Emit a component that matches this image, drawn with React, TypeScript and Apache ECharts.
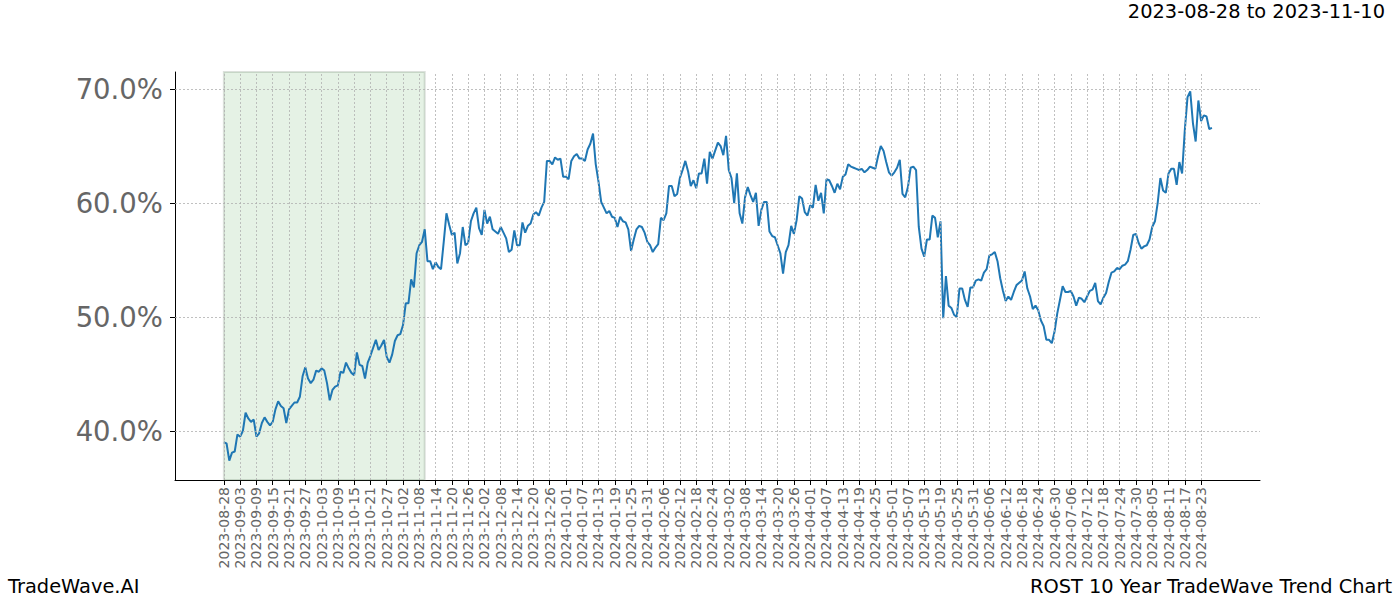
import { useEffect, useRef } from 'react';
import * as echarts from 'echarts';

// Tick labels on the x axis, one every 6 days (axis units)
const tickLabels = [
  '2023-08-28', '2023-09-03', '2023-09-09', '2023-09-15', '2023-09-21', '2023-09-27',
  '2023-10-03', '2023-10-09', '2023-10-15', '2023-10-21', '2023-10-27',
  '2023-11-02', '2023-11-08', '2023-11-14', '2023-11-20', '2023-11-26',
  '2023-12-02', '2023-12-08', '2023-12-14', '2023-12-20', '2023-12-26',
  '2024-01-01', '2024-01-07', '2024-01-13', '2024-01-19', '2024-01-25', '2024-01-31',
  '2024-02-06', '2024-02-12', '2024-02-18', '2024-02-24',
  '2024-03-02', '2024-03-08', '2024-03-14', '2024-03-20', '2024-03-26',
  '2024-04-01', '2024-04-07', '2024-04-13', '2024-04-19', '2024-04-25',
  '2024-05-01', '2024-05-07', '2024-05-13', '2024-05-19', '2024-05-25', '2024-05-31',
  '2024-06-06', '2024-06-12', '2024-06-18', '2024-06-24', '2024-06-30',
  '2024-07-06', '2024-07-12', '2024-07-18', '2024-07-24', '2024-07-30',
  '2024-08-05', '2024-08-11', '2024-08-17', '2024-08-23',
];
const tickStepDays = 6;

const yTicks = [40, 50, 60, 70];

// Highlighted window
const shadeStartDate = '2023-08-28';
const shadeEndDate = '2023-11-10';

// Daily values (%), one per day starting 2023-08-28
const valuesAugToOct = [
  39.0, 38.9, 37.4, 38.1, 38.2, 39.7, 39.5, 40.0, 41.6, 41.1,
  40.8, 41.0, 39.5, 39.8, 40.7, 41.2, 40.8, 40.5, 40.8, 41.9,
  42.6, 42.2, 42.0, 40.7, 41.9, 42.2, 42.5, 42.5, 43.0, 44.8,
  45.6, 44.6, 44.2, 44.5, 45.3, 45.2, 45.5, 45.3, 44.2, 42.7,
  43.6, 43.9, 44.0, 45.2, 45.1, 46.0, 45.5, 45.1, 44.9, 46.9,
  45.8, 45.7, 44.6, 46.0, 46.6, 47.3, 48.0, 47.1, 47.5, 48.0,
];
const valuesOctToDec = [
  46.5, 46.0, 46.7, 47.9, 48.4, 48.5, 49.3, 51.2, 51.2, 53.3,
  52.6, 55.6, 56.3, 56.6, 57.7, 54.9, 54.9, 54.2, 54.8, 54.4,
  54.2, 56.6, 59.1, 58.1, 57.2, 57.4, 54.7, 55.6, 57.9, 56.3,
  56.5, 58.4, 59.1, 59.6, 57.8, 57.2, 59.4, 58.2, 58.8, 57.7,
  57.5, 57.3, 57.9, 57.4, 56.9, 55.7, 55.9, 57.6, 56.3, 56.3,
  58.3, 57.4, 58.0, 58.2, 59.0, 59.2, 58.9, 59.6, 60.1, 63.7,
  63.7,
];
const valuesDecToFeb = [
  63.4, 64.0, 63.8, 63.9, 62.3, 62.3, 62.1, 63.7, 64.1,
  64.3, 63.9, 63.9, 63.7, 64.7, 65.2, 66.1, 63.4, 61.9, 60.1,
  59.6, 59.1, 59.3, 58.8, 58.7, 57.9, 58.8, 58.4, 58.3, 57.7,
  55.8, 56.8, 57.7, 58.0, 57.9, 57.4, 56.6, 56.3, 55.7, 56.1,
  56.4, 58.7, 58.5, 59.1, 61.5, 61.5, 60.6, 60.8, 62.2, 62.9,
  63.7, 62.8, 61.5, 62.0, 61.3, 62.6, 62.6, 63.9, 61.7, 64.5,
  63.9,
];
const valuesFebToApr = [
  64.6, 65.3, 65.0, 64.2, 65.9, 62.9, 62.2, 60.0, 62.6,
  59.1, 58.2, 60.5, 61.4, 60.7, 60.1, 60.9, 58.0, 59.4, 60.1,
  60.1, 57.5, 57.1, 57.0, 56.3, 55.6, 53.8, 55.7, 56.3, 58.0,
  57.3, 58.5, 60.6, 60.4, 59.2, 58.9, 59.8, 59.6, 61.6, 60.2,
  60.9, 59.1, 62.1, 62.0, 61.5, 60.9, 61.7, 61.2, 62.3, 62.5,
  63.4, 63.2, 63.1, 63.0, 62.9, 63.0, 62.7, 62.9, 63.2, 63.1,
  63.0, 64.1, 65.0,
];
const valuesAprToAug = [
  64.6, 63.6, 62.7, 62.4, 62.7, 63.1, 63.8,
  60.8, 60.5, 61.4, 63.1, 63.2, 62.9, 57.9, 56.0, 55.3, 56.8,
  56.8, 58.9, 58.7, 57.0, 58.4, 49.9, 53.6, 51.0, 50.8, 50.2,
  50.0, 52.5, 52.5, 51.5, 50.9, 52.6, 52.6, 53.2, 53.3, 53.2,
  53.9, 54.2, 55.4, 55.5, 55.7, 54.9, 53.4, 52.3, 51.4, 51.8,
  51.5, 52.2, 52.8, 53.0, 53.2, 54.0, 52.5, 51.8, 50.7, 51.0,
  50.6, 49.7, 49.2, 48.0, 48.0, 47.7, 48.7, 50.3, 51.5, 52.7,
  52.2, 52.2, 52.3, 51.8, 51.0, 51.7, 51.6, 51.3, 51.8, 52.3,
  52.4, 53.0, 51.4, 51.1, 51.7, 52.1, 53.1, 53.9, 54.0, 54.3,
  54.2, 54.5, 54.6, 54.9, 55.9, 57.2, 57.3, 56.5, 56.0, 56.2,
  56.3, 56.8, 57.9, 58.4, 60.0, 62.2, 61.1, 60.9, 62.6, 63.0,
  63.0, 61.6, 63.6, 62.6, 66.4, 69.3, 69.8, 67.0, 65.4, 69.0,
  67.2, 67.7, 67.6, 66.5, 66.6,
];

const FONT = "'DejaVu Sans', 'Liberation Sans', sans-serif";

function dayIndex(date: string): number {
  const [y0, m0, d0] = tickLabels[0].split('-').map(Number);
  const [y, m, d] = date.split('-').map(Number);
  return Math.round((Date.UTC(y, m - 1, d) - Date.UTC(y0, m0 - 1, d0)) / 86400000);
}

export default function App() {
  const ref = useRef<HTMLDivElement>(null);

  useEffect(() => {
    if (!ref.current) return;
    const chart = echarts.init(ref.current, undefined, { renderer: 'svg' });

    const values = [
      ...valuesAugToOct,
      ...valuesOctToDec,
      ...valuesDecToFeb,
      ...valuesFebToApr,
      ...valuesAprToAug,
    ];
    const data = values.map((v, i) => [i, v]);
    const tickValues = tickLabels.map((_, i) => i * tickStepDays);
    const gridStyle = { type: [2, 2], color: '#b0b0b0', width: 0.8 };

    chart.setOption({
      animation: false,
      backgroundColor: '#ffffff',
      grid: { left: 175, right: 140, top: 72, bottom: 120, containLabel: false },
      xAxis: {
        type: 'value',
        min: -18,
        max: 381.7,
        axisLine: { show: true, onZero: false, lineStyle: { color: '#000', width: 1 } },
        axisTick: { show: true, customValues: tickValues, length: 5, lineStyle: { color: '#000', width: 1 } },
        axisLabel: {
          customValues: tickValues,
          rotate: 90,
          margin: 7,
          fontSize: 14,
          fontFamily: FONT,
          color: '#666',
          formatter: (v: number) => tickLabels[Math.round(v / tickStepDays)] ?? '',
        },
        splitLine: { show: false },
      },
      yAxis: {
        type: 'value',
        min: 35.7,
        max: 71.5,
        axisLine: { show: true, onZero: false, lineStyle: { color: '#000', width: 1 } },
        axisTick: { show: true, customValues: yTicks, length: 5, lineStyle: { color: '#000', width: 1 } },
        axisLabel: {
          customValues: yTicks,
          margin: 12,
          fontSize: 27.5,
          fontFamily: FONT,
          color: '#666',
          formatter: (v: number) => v.toFixed(1) + '%',
        },
        splitLine: { show: false },
      },
      series: [
        {
          type: 'line',
          data: [],
          z: 1,
          silent: true,
          markLine: {
            silent: true,
            symbol: ['none', 'none'],
            label: { show: false },
            lineStyle: gridStyle,
            emphasis: { disabled: true },
            data: [
              ...tickValues.map((v) => ({ xAxis: v })),
              ...yTicks.map((v) => ({ yAxis: v })),
            ],
          },
        },
        {
          type: 'line',
          data,
          z: 3,
          showSymbol: false,
          symbol: 'none',
          lineStyle: { color: '#1f77b4', width: 2 },
          markArea: {
            silent: true,
            itemStyle: {
              color: 'rgba(0,128,0,0.1)',
              borderColor: 'rgba(60,90,60,0.18)',
              borderWidth: 2,
            },
            data: [[{ xAxis: dayIndex(shadeStartDate) }, { xAxis: dayIndex(shadeEndDate) }]],
          },
        },
      ],
      graphic: [
        {
          type: 'text',
          right: 15,
          top: 2,
          style: { text: `${shadeStartDate} to ${shadeEndDate}`, font: `19.4px ${FONT}`, fill: '#000' },
        },
        {
          type: 'text',
          left: 8,
          top: 577,
          style: { text: 'TradeWave.AI', font: `19.4px ${FONT}`, fill: '#000' },
        },
        {
          type: 'text',
          right: 8,
          top: 577,
          style: { text: 'ROST 10 Year TradeWave Trend Chart', font: `19.4px ${FONT}`, fill: '#000' },
        },
      ],
    });

    return () => chart.dispose();
  }, []);

  return (
    <div
      ref={ref}
      style={{ position: 'absolute', left: 0, top: 0, width: 1400, height: 600 }}
    />
  );
}
